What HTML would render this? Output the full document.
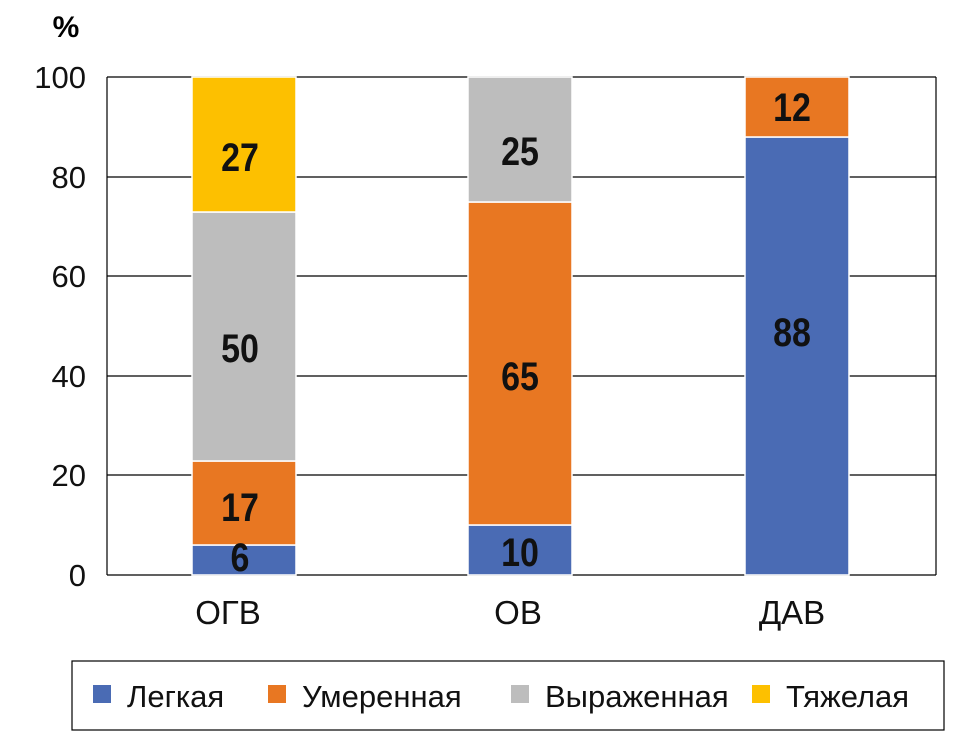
<!DOCTYPE html>
<html><head><meta charset="utf-8"><style>
html,body{margin:0;padding:0;background:#fff}
svg text{font-family:"Liberation Sans",sans-serif}
</style></head><body>
<svg width="974" height="731" viewBox="0 0 974 731" xmlns="http://www.w3.org/2000/svg">
<g stroke="#000" stroke-width="1.2">
<line x1="107" y1="77" x2="936" y2="77"/>
<line x1="107" y1="177" x2="936" y2="177"/>
<line x1="107" y1="276" x2="936" y2="276"/>
<line x1="107" y1="376" x2="936" y2="376"/>
<line x1="107" y1="475" x2="936" y2="475"/>
<line x1="107" y1="575" x2="936" y2="575"/>
<line x1="107" y1="77" x2="107" y2="575"/>
<line x1="936" y1="77" x2="936" y2="575"/>
</g>
<g stroke="#fff" stroke-width="1.5">
<rect x="192" y="545" width="104" height="30" fill="#4a6bb4"/>
<rect x="192" y="461" width="104" height="84" fill="#e87722"/>
<rect x="192" y="212" width="104" height="249" fill="#bdbdbd"/>
<rect x="192" y="77" width="104" height="135" fill="#fdc000"/>
<rect x="468" y="525" width="104" height="50" fill="#4a6bb4"/>
<rect x="468" y="202" width="104" height="323" fill="#e87722"/>
<rect x="468" y="77" width="104" height="125" fill="#bdbdbd"/>
<rect x="745" y="137" width="104" height="438" fill="#4a6bb4"/>
<rect x="745" y="77" width="104" height="60" fill="#e87722"/>
</g>
<g font-size="40" font-weight="bold" text-anchor="middle" fill="#111">
<text transform="translate(240,571) scale(0.85,1)">6</text>
<text transform="translate(240,521) scale(0.85,1)">17</text>
<text transform="translate(240,362) scale(0.85,1)">50</text>
<text transform="translate(240,171) scale(0.85,1)">27</text>
<text transform="translate(520,566) scale(0.85,1)">10</text>
<text transform="translate(520,390) scale(0.85,1)">65</text>
<text transform="translate(520,165) scale(0.85,1)">25</text>
<text transform="translate(792,346) scale(0.85,1)">88</text>
<text transform="translate(792,121) scale(0.85,1)">12</text>
</g>
<g font-size="31" text-anchor="end" fill="#111">
<text x="86" y="88">100</text>
<text x="86" y="188">80</text>
<text x="86" y="287">60</text>
<text x="86" y="387">40</text>
<text x="86" y="486">20</text>
<text x="86" y="586">0</text>
</g>
<text x="66" y="37" font-size="30" font-weight="bold" text-anchor="middle">%</text>
<g font-size="33" text-anchor="middle" fill="#111">
<text x="228" y="624">ОГВ</text>
<text x="518" y="624">ОВ</text>
<text x="792" y="624">ДАВ</text>
</g>
<rect x="72" y="661" width="872" height="69" fill="none" stroke="#000" stroke-width="1.2"/>
<rect x="93" y="685" width="18" height="18" fill="#4a6bb4"/>
<rect x="268" y="685" width="18" height="18" fill="#e87722"/>
<rect x="511" y="685" width="18" height="18" fill="#bdbdbd"/>
<rect x="752" y="685" width="18" height="18" fill="#fdc000"/>
<g font-size="31" fill="#111">
<text x="127" y="707">Легкая</text>
<text x="302" y="707">Умеренная</text>
<text x="545" y="707">Выраженная</text>
<text x="786" y="707">Тяжелая</text>
</g>
</svg>
</body></html>
